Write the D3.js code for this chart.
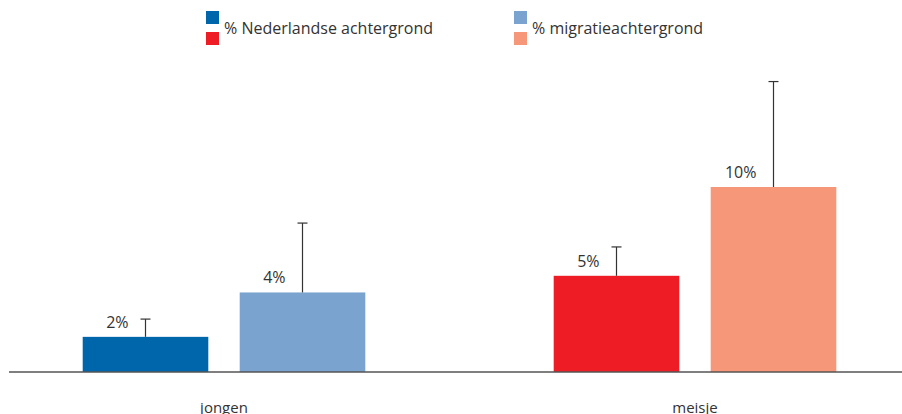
<!DOCTYPE html>
<html><head><meta charset="utf-8">
<script src="https://cdn.jsdelivr.net/npm/d3@7"></script>
<style>
html,body{margin:0;padding:0;background:#fff;}
svg{display:block;font-family:"Open Sans","Noto Sans",sans-serif;}
</style></head>
<body><svg id="chart" width="902" height="414"></svg>
<script>
const categories = ["jongen", "meisje"];
const seriesNames = ["% Nederlandse achtergrond", "% migratieachtergrond"];
const valuesNed = [1.9, 5.2];
const valuesMig = [4.3, 10.0];
const errorTopNed = [2.86, 6.76];
const errorTopMig = [8.05, 15.7];
const labelsNed = ["2%", "5%"];
const labelsMig = ["4%", "10%"];
const colorsNed = ["#0066ab", "#ee1d25"];
const colorsMig = ["#7aa3d0", "#f59778"];

const svg = d3.select("#chart");
const baseY = 372;

const y = d3.scaleLinear().domain([0, 16]).range([baseY, baseY - 16 * 18.5]);
const x0 = d3.scaleBand().domain(categories).range([-11.5, 930.5]).paddingInner(0.4).paddingOuter(0.2);
const x1 = d3.scaleBand().domain([0, 1]).range([0, x0.bandwidth()]).paddingInner(0.2).paddingOuter(0);

const rows = [];
categories.forEach((c, i) => {
  rows.push({cat: c, s: 0, v: valuesNed[i], e: errorTopNed[i], lab: labelsNed[i], col: colorsNed[i]});
  rows.push({cat: c, s: 1, v: valuesMig[i], e: errorTopMig[i], lab: labelsMig[i], col: colorsMig[i]});
});

const g = svg.append("g");
g.selectAll("rect.bar").data(rows).join("rect")
  .attr("class", "bar")
  .attr("x", d => x0(d.cat) + x1(d.s))
  .attr("width", x1.bandwidth())
  .attr("y", d => y(d.v))
  .attr("height", d => y(0) - y(d.v))
  .attr("fill", d => d.col);

// error bars
const cx = d => x0(d.cat) + x1(d.s) + x1.bandwidth() / 2;
g.selectAll("line.err").data(rows).join("line")
  .attr("x1", cx).attr("x2", cx)
  .attr("y1", d => y(d.v)).attr("y2", d => y(d.e))
  .attr("stroke", "#333").attr("stroke-width", 1.2);
g.selectAll("line.cap").data(rows).join("line")
  .attr("x1", d => cx(d) - 5).attr("x2", d => cx(d) + 5)
  .attr("y1", d => y(d.e)).attr("y2", d => y(d.e))
  .attr("stroke", "#333").attr("stroke-width", 1.2);

// value labels
g.selectAll("text.val").data(rows).join("text")
  .attr("x", d => cx(d) - 17)
  .attr("y", d => y(d.v) - 9)
  .attr("text-anchor", "end")
  .attr("font-size", 16)
  .attr("fill", "#333")
  .text(d => d.lab);

// axis
const xAxis = d3.axisBottom(x0).tickSize(0).tickPadding(30);
const ax = svg.append("g").attr("transform", `translate(0,${baseY})`).call(xAxis);
ax.select(".domain").attr("d", "M9,0H902").attr("stroke", "#555").attr("stroke-width", 1.5);
ax.selectAll("text").attr("font-size", 15).attr("fill", "#333")
  .attr("font-family", "'Open Sans','Noto Sans',sans-serif");

// legend
const legend = svg.append("g");
const legX = [206, 514];
const legCols = [colorsNed, colorsMig];
seriesNames.forEach((n, i) => {
  legend.append("rect").attr("x", legX[i]).attr("y", 11).attr("width", 13).attr("height", 13).attr("fill", legCols[i][0]);
  legend.append("rect").attr("x", legX[i]).attr("y", 32).attr("width", 13).attr("height", 13).attr("fill", legCols[i][1]);
  legend.append("text").attr("x", legX[i] + 18).attr("y", 34).attr("font-size", 16).attr("fill", "#333").text(n);
});
</script></body></html>
